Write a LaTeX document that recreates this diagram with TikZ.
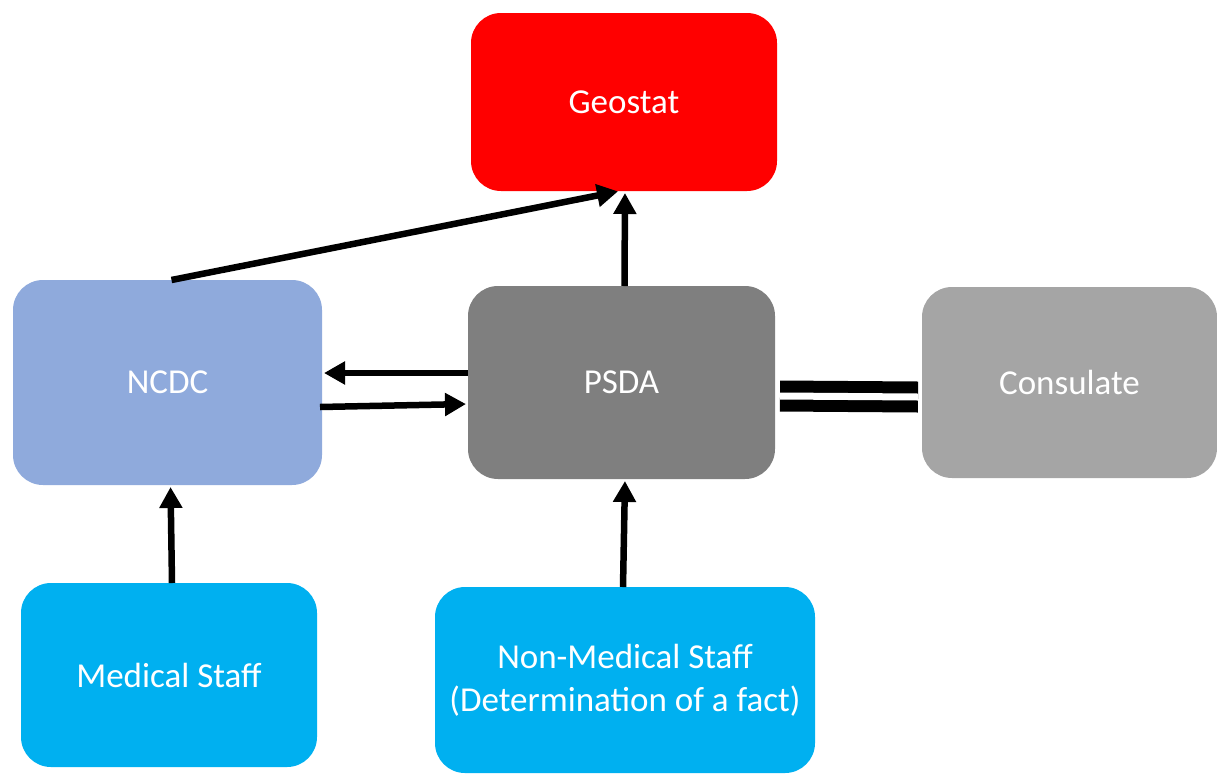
\documentclass[tikz,border=0pt]{standalone}
\usepackage{fontspec}
\setmainfont{Carlito}
\usetikzlibrary{positioning,arrows.meta}
\definecolor{geored}{HTML}{FF0000}
\definecolor{ncdcblue}{HTML}{8FAADC}
\definecolor{psdagray}{HTML}{7F7F7F}
\definecolor{consgray}{HTML}{A5A5A5}
\definecolor{staffcyan}{HTML}{00B0F0}
\begin{document}
\begin{tikzpicture}[x=1pt, y=1pt,
    main/.style = {rounded corners=30pt, text=white, align=center, inner sep=0pt, outer sep=0pt,
                   font=\fontsize{35}{43}\selectfont},
    arr/.style = {line width=6.5pt, -{Triangle[length=21pt,width=22pt]}, shorten >=2pt}]
    \useasboundingbox (0,0) rectangle (1217,-774);
    \node[main] (1) [fill=ncdcblue, minimum width=309pt, minimum height=205pt] at (167.5,-382.5) {NCDC};
    \node[main] (2) [fill=psdagray, minimum width=307pt, minimum height=193pt] [right=146pt of 1] {PSDA};
    \node[main] (3) [fill=consgray, minimum width=295pt, minimum height=191pt] [right=147pt of 2] {Consulate};
    \node[main] (4) [fill=geored, minimum width=306pt, minimum height=178pt] [above=95pt of 2, xshift=2.5pt] {Geostat};
    \node[main] (5) [fill=staffcyan, minimum width=296pt, minimum height=184pt] [below=98pt of 1, xshift=1.5pt] {Medical Staff};
    \node[main] (6) [fill=staffcyan, minimum width=380pt, minimum height=186pt] [below=108pt of 2, xshift=3.5pt] {Non-Medical Staff\\(Determination of a fact)};
    \draw[arr] ([xshift=4pt]1.north) -- ([xshift=-4pt]4.south);
    \draw[arr] ([xshift=3pt]2.north) -- ([xshift=1pt]4.south);
    \draw[arr] ([yshift=9.5pt]2.west) -- ([yshift=9.5pt]1.east);
    \draw[arr] ([xshift=-2pt,yshift=-24.5pt]1.east) -- ([yshift=-21.5pt]2.west);
    \draw[double, double distance=7pt, line width=12pt] ([xshift=5pt,yshift=-13.5pt]2.east) -- ([xshift=-4pt,yshift=-14.5pt]3.west);
    \draw[arr] ([xshift=3pt]5.north) -- ([xshift=3pt]1.south);
    \draw[arr] ([xshift=-2pt]6.north) -- ([xshift=3.5pt]2.south);
\end{tikzpicture}
\end{document}
